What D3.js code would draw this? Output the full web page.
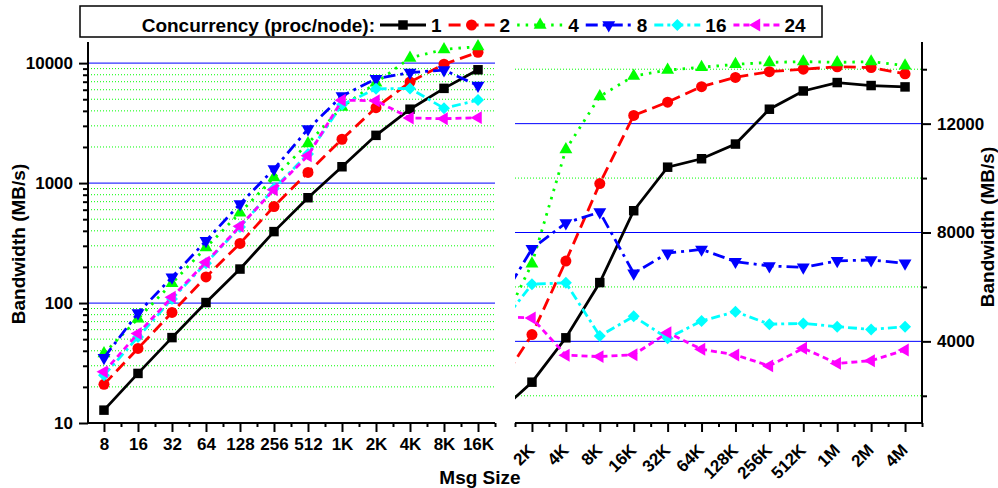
<!DOCTYPE html>
<html>
<head>
<meta charset="utf-8">
<script src="https://cdnjs.cloudflare.com/ajax/libs/d3/7.8.5/d3.min.js"></script>
<style>
  body { margin: 0; background: #fff; }
  text { font-family: "Liberation Sans", Arial, sans-serif; font-weight: bold; fill: #000; }
</style>
</head>
<body>
<div id="container"></div>
<script>
// message sizes, shared by both panels
const sizes = ['8', '16', '32', '64', '128', '256', '512', '1K', '2K', '4K',
               '8K', '16K', '32K', '64K', '128K', '256K', '512K', '1M', '2M', '4M'];

// concurrency levels (proc/node)
const concurrency = ['1', '2', '4', '8', '16', '24'];

// bandwidth (MB/s) per message size
const bw1  = [12.8, 25.9, 51.5, 101, 192, 394, 755, 1368, 2500, 4130, 6160, 8800, 10400, 10710, 11250, 12530, 13200, 13510, 13400, 13350];
const bw2  = [21, 41.8, 83.5, 165, 314, 638, 1227, 2320, 4250, 6950, 9800, 12300, 12790, 13360, 13700, 13910, 14000, 14090, 14060, 13830];
const bw4  = [38, 74, 146, 290, 565, 1114, 2140, 4300, 6850, 11050, 13000, 13750, 13970, 14070, 14180, 14250, 14280, 14250, 14280, 14130];
const bw8  = [35, 82.6, 164, 330, 670, 1309, 2820, 5330, 7400, 8350, 8750, 6500, 7240, 7380, 6930, 6770, 6720, 6960, 6990, 6870];
const bw16 = [25, 52, 108, 215, 430, 900, 1750, 4500, 6100, 6150, 4200, 4920, 4110, 4750, 5090, 4630, 4660, 4540, 4440, 4540];
const bw24 = [26.7, 55.7, 112, 219, 437, 881, 1690, 4910, 4860, 3490, 3440, 3510, 4320, 3710, 3500, 3100, 3745, 3190, 3290, 3680];

// tick values
const leftMajor = [10, 100, 1000, 10000];
const rightTicks = [2000, 4000, 6000, 8000, 10000, 12000, 14000];
const rightLabels = [4000, 8000, 12000];

// svg size
const w = 998;
const h = 488;

const svg = d3.select('#container')
              .append('svg')
              .attr('width', w)
              .attr('height', h);

// series styles
const series = [
  { name: concurrency[0], values: bw1,  color: '#000000', dash: null,          sym: d3.symbolSquare,   size: 90, rot: 0 },
  { name: concurrency[1], values: bw2,  color: '#ff0000', dash: '12,6',        sym: d3.symbolCircle,   size: 95, rot: 0 },
  { name: concurrency[2], values: bw4,  color: '#00ff00', dash: '2.5,6',       sym: d3.symbolTriangle, size: 72, rot: 0 },
  { name: concurrency[3], values: bw8,  color: '#0000ff', dash: '12,5,3,5',    sym: d3.symbolTriangle, size: 72, rot: 180 },
  { name: concurrency[4], values: bw16, color: '#00ffff', dash: '9,4,3,4',     sym: d3.symbolSquare,   size: 72, rot: 45 },
  { name: concurrency[5], values: bw24, color: '#ff00ff', dash: '6,4',         sym: d3.symbolTriangle, size: 72, rot: -90 }
];

// panel geometry
const yTop = 42, yBot = 423;
const L = { x0: 88, x1: 495 };
const R = { x0: 515, x1: 922 };

// scales
const xL = d3.scaleLinear().domain([-0.47, 11.5]).range([L.x0, L.x1]);
const xR = d3.scaleLinear().domain([7.5, 19.5]).range([R.x0, R.x1]);
const yL = d3.scaleLog().domain([10, 15000]).range([yBot, yTop]);
const yR = d3.scaleLinear().domain([1000, 15000]).range([yBot, yTop]);

const leftMinor = [];
[10, 100, 1000, 10000].forEach(d => {
  for (let k = 2; k <= 9; k++) if (d * k <= 15000) leftMinor.push(d * k);
});

// grid lines
const grid = svg.append('g');
grid.selectAll('.gl').data(leftMinor).enter().append('line')
    .attr('x1', L.x0).attr('x2', L.x1)
    .attr('y1', d => yL(d)).attr('y2', d => yL(d))
    .attr('stroke', '#00ff00').attr('stroke-width', 1).attr('stroke-dasharray', '1,2');
grid.selectAll('.gm').data(leftMajor.slice(1)).enter().append('line')
    .attr('x1', L.x0).attr('x2', L.x1)
    .attr('y1', d => yL(d)).attr('y2', d => yL(d))
    .attr('stroke', '#3333ff').attr('stroke-width', 1.2);
grid.selectAll('.gr').data(rightTicks).enter().append('line')
    .attr('x1', R.x0).attr('x2', R.x1)
    .attr('y1', d => yR(d)).attr('y2', d => yR(d))
    .attr('stroke', d => rightLabels.includes(d) ? '#0000ff' : '#00ff00')
    .attr('stroke-width', 1)
    .attr('stroke-dasharray', d => rightLabels.includes(d) ? null : '1,2');

// clip for the right panel
svg.append('clipPath').attr('id', 'clipR')
   .append('rect').attr('x', R.x0).attr('y', 0).attr('width', R.x1 - R.x0).attr('height', h);

const plotL = svg.append('g');
const plotR = svg.append('g').attr('clip-path', 'url(#clipR)');

function drawSeries(g, s, xs, ys, lineIdx, markIdx) {
  const line = d3.line().x(i => xs(i)).y(i => ys(s.values[i]));
  g.append('path')
   .datum(lineIdx)
   .attr('d', line)
   .attr('fill', 'none')
   .attr('stroke', s.color)
   .attr('stroke-width', 2.8)
   .attr('stroke-dasharray', s.dash);
  g.selectAll(null).data(markIdx).enter().append('path')
   .attr('d', d3.symbol().type(s.sym).size(s.size))
   .attr('transform', i => `translate(${xs(i)},${ys(s.values[i])}) rotate(${s.rot})`)
   .attr('fill', s.color);
}

const idxL = d3.range(0, 12);
const idxRLine = d3.range(7, 20);
const idxRMark = d3.range(8, 20);
series.forEach(s => {
  drawSeries(plotL, s, xL, yL, idxL, idxL);
  drawSeries(plotR, s, xR, yR, idxRLine, idxRMark);
});

// axes
function styleAxis(g) {
  g.selectAll('path.domain').remove();
  g.selectAll('line').attr('stroke', '#000').attr('stroke-width', 2);
  g.selectAll('text').style('font-size', '17px').style('font-weight', 'bold');
}

// left y axis
svg.append('g').attr('transform', `translate(${L.x0},0)`)
   .call(d3.axisLeft(yL).tickValues(leftMajor).tickFormat(d3.format('d')).tickSize(9).tickPadding(6))
   .call(styleAxis);
svg.append('g').attr('transform', `translate(${L.x0},0)`)
   .call(d3.axisLeft(yL).tickValues(leftMinor).tickFormat('').tickSize(5))
   .call(styleAxis);

// left x axis
svg.append('g').attr('transform', `translate(0,${yBot})`)
   .call(d3.axisBottom(xL).tickValues(idxL).tickFormat(i => sizes[i]).tickSize(9).tickPadding(6))
   .call(styleAxis);
svg.append('g').attr('transform', `translate(0,${yBot})`)
   .call(d3.axisBottom(xL).tickValues(d3.range(0.5, 11.6, 1)).tickFormat('').tickSize(4))
   .call(styleAxis);

// right y axis
svg.append('g').attr('transform', `translate(${R.x1},0)`)
   .call(d3.axisRight(yR).tickValues(rightTicks)
         .tickFormat(d => rightLabels.includes(d) ? d : '')
         .tickSize(9).tickPadding(6))
   .call(styleAxis)
   .call(g => g.selectAll('.tick line').attr('x2', d => rightLabels.includes(d) ? 9 : 5));

// right x axis, rotated labels
const xAxR = svg.append('g').attr('transform', `translate(0,${yBot})`)
   .call(d3.axisBottom(xR).tickValues(idxRMark).tickFormat(i => sizes[i]).tickSize(9))
   .call(styleAxis);
xAxR.selectAll('text')
    .attr('text-anchor', 'end')
    .attr('dy', '0.35em')
    .attr('transform', 'translate(-1,24) rotate(-45)')
    .attr('y', 0).attr('x', 0);
svg.append('g').attr('transform', `translate(0,${yBot})`)
   .call(d3.axisBottom(xR).tickValues(d3.range(7.5, 19.6, 1)).tickFormat('').tickSize(4))
   .call(styleAxis);

// axis lines
svg.append('line').attr('x1', L.x0).attr('x2', L.x0).attr('y1', yTop).attr('y2', yBot + 1)
   .attr('stroke', '#000').attr('stroke-width', 2);
svg.append('line').attr('x1', L.x0 - 1).attr('x2', L.x1).attr('y1', yBot).attr('y2', yBot)
   .attr('stroke', '#000').attr('stroke-width', 2);
svg.append('line').attr('x1', R.x1).attr('x2', R.x1).attr('y1', yTop).attr('y2', yBot + 1)
   .attr('stroke', '#000').attr('stroke-width', 2);
svg.append('line').attr('x1', R.x0).attr('x2', R.x1 + 1).attr('y1', yBot).attr('y2', yBot)
   .attr('stroke', '#000').attr('stroke-width', 2);

// axis titles
svg.append('text').attr('transform', 'translate(25,244) rotate(-90)')
   .attr('text-anchor', 'middle').style('font-size', '19px').text('Bandwidth (MB/s)');
svg.append('text').attr('transform', 'translate(994,227) rotate(-90)')
   .attr('text-anchor', 'middle').style('font-size', '19px').text('Bandwidth (MB/s)');
svg.append('text').attr('x', 480).attr('y', 484)
   .attr('text-anchor', 'middle').style('font-size', '19px').text('Msg Size');

// legend
const leg = svg.append('g');
leg.append('rect')
   .attr('x', 80).attr('y', 6).attr('width', 742).attr('height', 31)
   .attr('fill', '#fff').attr('stroke', '#000').attr('stroke-width', 1.5);
leg.append('text').attr('x', 375).attr('y', 32)
   .attr('text-anchor', 'end').style('font-size', '19px').text('Concurrency (proc/node):');
let lx = 380;
series.forEach(s => {
  leg.append('line').attr('x1', lx).attr('x2', lx + 46).attr('y1', 25).attr('y2', 25)
     .attr('stroke', s.color).attr('stroke-width', 2.8).attr('stroke-dasharray', s.dash);
  leg.append('path').attr('d', d3.symbol().type(s.sym).size(s.size))
     .attr('transform', `translate(${lx + 23},25) rotate(${s.rot})`).attr('fill', s.color);
  const t = leg.append('text').attr('x', lx + 51).attr('y', 32).style('font-size', '19px').text(s.name);
  lx += 51 + t.node().getComputedTextLength() + 7;
});
</script>
</body>
</html>
